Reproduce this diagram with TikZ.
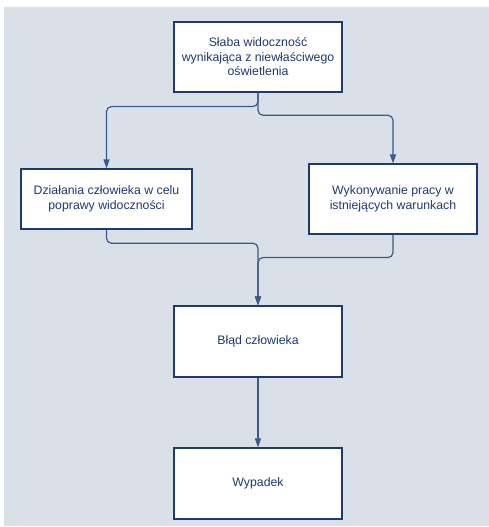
\documentclass[tikz,border=0pt]{standalone}
\usepackage{fontspec}
\setmainfont{Liberation Sans}
\usetikzlibrary{arrows.meta}
\definecolor{bgc}{HTML}{D9E0E8}
\definecolor{navy}{HTML}{1F3A6E}
\definecolor{connc}{HTML}{3A5A8C}
\begin{document}
\begin{tikzpicture}[x=1pt,y=-1pt,
  box/.style={draw=navy, line width=1.1pt, fill=white, minimum width=168pt, minimum height=70pt, inner sep=0pt, align=center, text=navy, font=\fontsize{12.3}{14.5}\selectfont},
  conn/.style={draw=connc, line width=1.2pt, rounded corners=5pt, -{Triangle[length=9pt,width=6pt]}}]
\useasboundingbox (0,0) rectangle (489,527);
\fill[white] (0,0) rectangle (489,527);
\fill[bgc] (4,7) rectangle (488.5,526);
\node[box] (top) at (258,57) {Słaba widoczność\\wynikająca z niewłaściwego\\oświetlenia};
\node[box, minimum width=171pt, minimum height=60pt] (left) at (106.5,199) {Działania człowieka w celu\\poprawy widoczności};
\node[box] (right) at (393,199) {Wykonywanie pracy w\\istniejących warunkach};
\node[box, minimum height=71pt] (mid) at (258,341.5) {Błąd człowieka};
\node[box, minimum height=71pt] (bot) at (258,483.5) {Wypadek};
\draw[conn] (top.south) -- ++(0,14) -| (left.north);
\draw[conn] (top.south) -- ++(0,22.7) -| (right.north);
\draw[conn] (left.south) -- ++(0,13.7) -| (mid.north);
\draw[conn] (right.south) -- ++(0,23) -| (mid.north);
\draw[conn] (mid.south) -- (bot.north);
\end{tikzpicture}
\end{document}
